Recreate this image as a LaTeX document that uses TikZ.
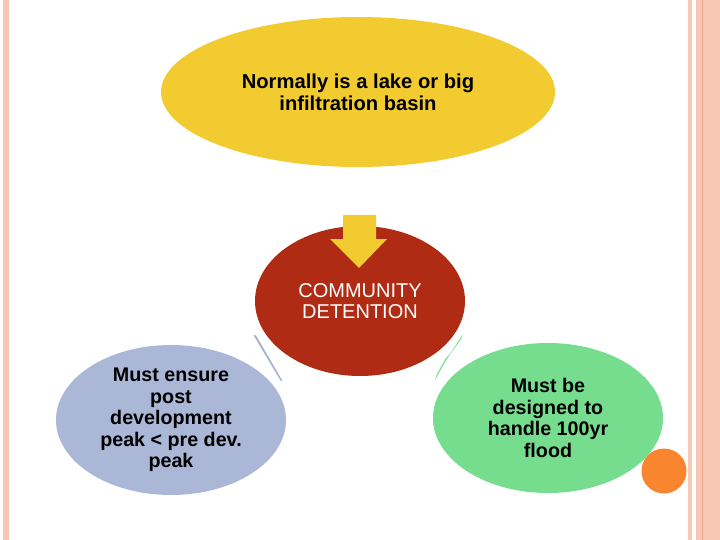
\documentclass[tikz,border=0pt]{standalone}
\usepackage{fontspec}
\setmainfont{Liberation Sans}
\usetikzlibrary{shapes.geometric}
\definecolor{yel}{HTML}{F2CB30}
\definecolor{redc}{HTML}{B02B13}
\definecolor{bluec}{HTML}{AAB7D7}
\definecolor{greenc}{HTML}{77DD8E}
\definecolor{orangec}{HTML}{F9852F}
\definecolor{salmon}{HTML}{F9C8B4}
\definecolor{salmond}{HTML}{F08D63}
\tikzset{
  blob/.style={ellipse, inner sep=0pt, align=center, font=\fontsize{19.7}{21.6}\selectfont\bfseries},
}
\begin{document}
\begin{tikzpicture}[x=1pt,y=-1pt]
\useasboundingbox (0,0) rectangle (720,540);
\fill[white] (0,0) rectangle (720,540);
% border stripes
\fill[salmon] (3,0) rectangle (9,540);
\fill[salmon] (688,0) rectangle (692,540);
\fill[salmon] (696,0) rectangle (720,540);
\fill[salmond!60!salmon] (701.5,0) rectangle (702.8,540);
% shapes
\node[blob, fill=yel, minimum width=394, minimum height=150, font=\fontsize{20.2}{22}\selectfont\bfseries] (top) at (358,92) {Normally is a lake or big\\infiltration basin};
\node[blob, fill=redc, text=white, minimum width=210, minimum height=150, font=\fontsize{20}{21.6}\selectfont] (mid) at (360,301) {COMMUNITY\\DETENTION};
\node[blob, fill=bluec, minimum width=230, minimum height=150] (left) at (171,420) {Must ensure\\post\\development\\peak < pre dev.\\peak};
\node[blob, fill=greenc, minimum width=230, minimum height=150] (right) at (548,418) {Must be\\designed to\\handle 100yr\\flood};
\node[circle, fill=orangec, minimum size=45, inner sep=0pt] (dot) at (664,471) {};
% down arrow
\fill[yel] (343,215) -- (376,215) -- (376,239) -- (387,239) -- (359,268) -- (330,239) -- (343,239) -- cycle;
% connectors
\fill[bluec!85!gray] (253.5,335) -- (256,335.5) -- (282.5,381) -- (280.5,380.5) -- cycle;
\fill[greenc] (463,334) -- (461,339) -- (449,356) -- (445,362) -- (435,380) -- (437,374) -- (446,358) -- (450,354) -- cycle;
\end{tikzpicture}
\end{document}
